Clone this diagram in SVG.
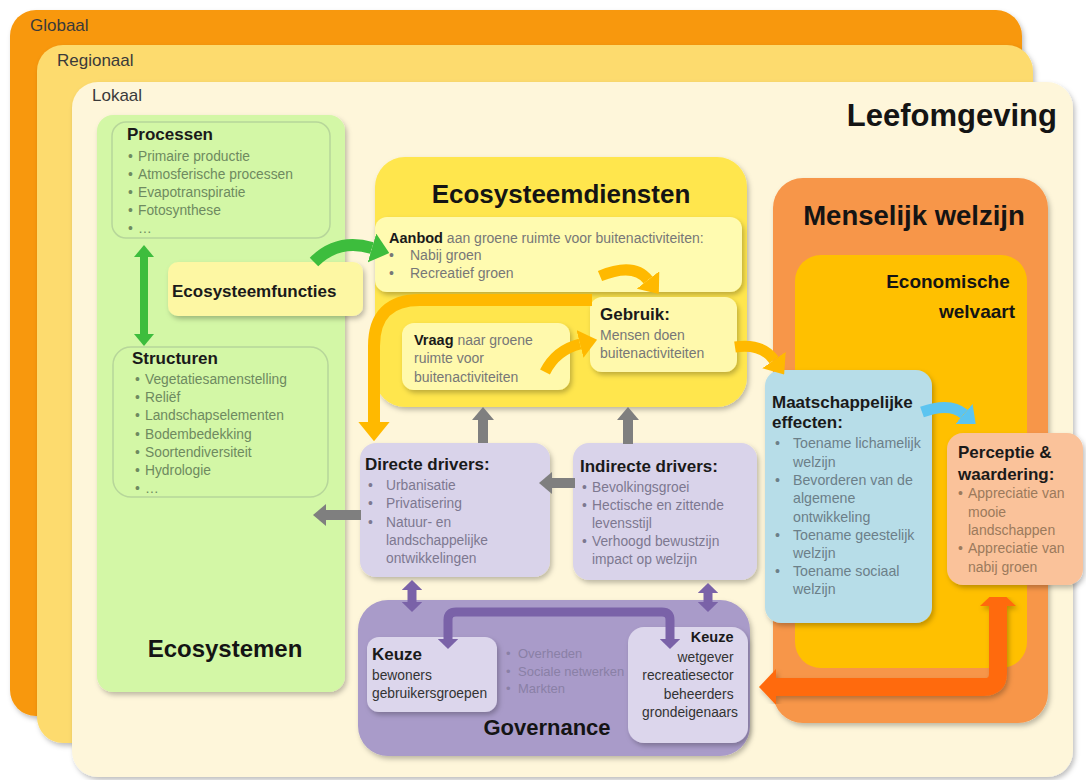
<svg xmlns="http://www.w3.org/2000/svg" width="1086" height="780" viewBox="0 0 1086 780">
  <style>
    text { font-family: "Liberation Sans", Arial, sans-serif; }
    .lvl { font-size: 17px; fill: #3a3a3a; }
    .big { font-weight: bold; fill: #141414; }
    .h { font-weight: bold; font-size: 17px; fill: #1a1a1a; }
    .t { font-size: 14px; fill: #777; }
    .tg { font-size: 13.8px; fill: #6e8a60; }
    .tp { font-size: 13.8px; fill: #7d7890; }
    .tm { font-size: 13px; fill: #8a80a6; }
    .tb { font-size: 14.2px; fill: #6c7f88; }
    .to { font-size: 14px; fill: #9c7a5c; }
    .k { font-size: 13.8px; fill: #333; }
    .shadow { filter: url(#sh); }
  </style>
  <defs>
    <filter id="sh" x="-10%" y="-10%" width="125%" height="130%">
      <feDropShadow dx="2" dy="3" stdDeviation="2.5" flood-color="#000" flood-opacity="0.25"/>
    </filter>
    <marker id="ah-gray" viewBox="0 0 10 10" refX="0" refY="5" markerWidth="1.3" markerHeight="2.2" preserveAspectRatio="none" orient="auto-start-reverse">
      <path d="M0,0L10,5L0,10z" fill="#7f7f7f"/>
    </marker>
    <marker id="ah-green" viewBox="0 0 10 10" refX="0" refY="5" markerWidth="1.5" markerHeight="2.5" preserveAspectRatio="none" orient="auto-start-reverse">
      <path d="M0,0L10,5L0,10z" fill="#3dbd3d"/>
    </marker>
    <marker id="ah-gold" viewBox="0 0 10 10" refX="0" refY="5" markerWidth="1.6" markerHeight="2.6" preserveAspectRatio="none" orient="auto-start-reverse">
      <path d="M0,0L10,5L0,10z" fill="#ffb900"/>
    </marker>
    <marker id="ah-purple" viewBox="0 0 10 10" refX="0" refY="5" markerWidth="1.1" markerHeight="2.3" preserveAspectRatio="none" orient="auto-start-reverse">
      <path d="M0,0L10,5L0,10z" fill="#7a62a8"/>
    </marker>
    <marker id="ah-blue" viewBox="0 0 10 10" refX="0" refY="5" markerWidth="1.4" markerHeight="2.4" preserveAspectRatio="none" orient="auto-start-reverse">
      <path d="M0,0L10,5L0,10z" fill="#5cc4f0"/>
    </marker>
    <marker id="ah-red" viewBox="0 0 10 10" refX="0" refY="5" markerWidth="0.95" markerHeight="2.0" preserveAspectRatio="none" orient="auto-start-reverse">
      <path d="M0,0L10,5L0,10z" fill="#ff6a0c"/>
    </marker>
  </defs>

  <rect width="1086" height="780" fill="#ffffff"/>

  <!-- scale levels -->
  <g id="globaal">
    <rect x="10" y="10" width="1012" height="706" rx="26" fill="#f8980f" class="shadow"/>
    <text x="30" y="31" class="lvl">Globaal</text>
  </g>
  <g id="regionaal">
    <rect x="37" y="45" width="996" height="698" rx="26" fill="#fddb6e" class="shadow"/>
    <text x="57" y="66" class="lvl">Regionaal</text>
  </g>
  <g id="lokaal">
    <rect x="72" y="82" width="1001" height="695" rx="26" fill="#fef6da" class="shadow"/>
    <text x="92" y="101" class="lvl">Lokaal</text>
    <text x="1057" y="126" text-anchor="end" class="big" font-size="31">Leefomgeving</text>
  </g>

  <!-- Ecosystems -->
  <g id="ecosystemen">
    <rect x="97" y="115" width="248" height="577" rx="16" fill="#d3f7a6" class="shadow"/>
    <text x="225" y="657" text-anchor="middle" class="big" font-size="24">Ecosystemen</text>
  </g>
  <g id="processen">
    <rect x="112" y="122" width="218" height="116" rx="14" fill="#d3f7a6" stroke="#b7d69a" stroke-width="1.5"/>
    <text x="127" y="140" class="h" font-size="17.5">Processen</text>
    <text class="tg">
      <tspan x="128" y="161">•</tspan><tspan x="138" y="161">Primaire productie</tspan>
      <tspan x="128" y="179">•</tspan><tspan x="138" y="179">Atmosferische processen</tspan>
      <tspan x="128" y="197">•</tspan><tspan x="138" y="197">Evapotranspiratie</tspan>
      <tspan x="128" y="215">•</tspan><tspan x="138" y="215">Fotosynthese</tspan>
      <tspan x="128" y="233">•</tspan><tspan x="138" y="233">…</tspan>
    </text>
  </g>
  <g id="structuren">
    <rect x="113" y="347" width="215" height="150" rx="18" fill="#d3f7a6" stroke="#b7d69a" stroke-width="1.5"/>
    <text x="132" y="364" class="h" font-size="17.5">Structuren</text>
    <text class="tg">
      <tspan x="135" y="384">•</tspan><tspan x="145" y="384">Vegetatiesamenstelling</tspan>
      <tspan x="135" y="402">•</tspan><tspan x="145" y="402">Reliëf</tspan>
      <tspan x="135" y="420">•</tspan><tspan x="145" y="420">Landschapselementen</tspan>
      <tspan x="135" y="439">•</tspan><tspan x="145" y="439">Bodembedekking</tspan>
      <tspan x="135" y="457">•</tspan><tspan x="145" y="457">Soortendiversiteit</tspan>
      <tspan x="135" y="475">•</tspan><tspan x="145" y="475">Hydrologie</tspan>
      <tspan x="135" y="493">•</tspan><tspan x="145" y="493">…</tspan>
    </text>
  </g>
  <g id="ecosysteemfuncties">
    <rect x="168" y="262" width="195" height="54" rx="10" fill="#fdf7a3" class="shadow"/>
    <text x="172" y="297" class="h" font-size="17.5">Ecosysteemfuncties</text>
  </g>

  <!-- Ecosystem services -->
  <g id="ecosysteemdiensten">
    <rect x="375" y="157" width="372" height="250" rx="30" fill="#ffe64d" class="shadow"/>
    <text x="561" y="203" text-anchor="middle" class="big" font-size="26">Ecosysteemdiensten</text>
  </g>
  <g id="aanbod">
    <rect x="375" y="217" width="367" height="75" rx="12" fill="#fffbb0" class="shadow"/>
    <text x="389" y="243" class="t" font-size="14.5"><tspan font-weight="bold" font-size="14.5" fill="#1a1a1a">Aanbod</tspan> aan groene ruimte voor buitenactiviteiten:</text>
    <text class="t">
      <tspan x="389" y="260">•</tspan><tspan x="410" y="260">Nabij groen</tspan>
      <tspan x="389" y="278">•</tspan><tspan x="410" y="278">Recreatief groen</tspan>
    </text>
  </g>
  <g id="vraag">
    <rect x="402" y="323" width="168" height="67" rx="12" fill="#fff9ac" class="shadow"/>
    <text x="414" y="345" class="t"><tspan font-weight="bold" font-size="14.5" fill="#1a1a1a">Vraag</tspan> naar groene</text>
    <text x="414" y="363" class="t">ruimte voor</text>
    <text x="414" y="382" class="t">buitenactiviteiten</text>
  </g>
  <g id="gebruik">
    <rect x="590" y="297" width="147" height="75" rx="12" fill="#fff9ac" class="shadow"/>
    <text x="600" y="320" class="h" font-size="15">Gebruik:</text>
    <text x="600" y="340" class="t">Mensen doen</text>
    <text x="600" y="358" class="t">buitenactiviteiten</text>
  </g>

  <!-- Drivers -->
  <g id="directe-drivers">
    <rect x="360" y="443" width="190" height="134" rx="16" fill="#d9d3ea" class="shadow"/>
    <text x="365" y="470" class="h">Directe drivers:</text>
    <text class="tp">
      <tspan x="368" y="490">•</tspan><tspan x="386" y="490">Urbanisatie</tspan>
      <tspan x="368" y="508">•</tspan><tspan x="386" y="508">Privatisering</tspan>
      <tspan x="368" y="527">•</tspan><tspan x="386" y="527">Natuur- en</tspan>
      <tspan x="386" y="545">landschappelijke</tspan>
      <tspan x="386" y="563">ontwikkelingen</tspan>
    </text>
  </g>
  <g id="indirecte-drivers">
    <rect x="573" y="443" width="184" height="137" rx="16" fill="#d9d3ea" class="shadow"/>
    <text x="580" y="472" class="h">Indirecte drivers:</text>
    <text class="tp">
      <tspan x="582" y="492">•</tspan><tspan x="592" y="492">Bevolkingsgroei</tspan>
      <tspan x="582" y="510">•</tspan><tspan x="592" y="510">Hectische en zittende</tspan>
      <tspan x="592" y="528">levensstijl</tspan>
      <tspan x="582" y="546">•</tspan><tspan x="592" y="546">Verhoogd bewustzijn</tspan>
      <tspan x="592" y="564">impact op welzijn</tspan>
    </text>
  </g>

  <!-- Governance -->
  <g id="governance">
    <rect x="358" y="600" width="392" height="156" rx="30" fill="#a99bc9" class="shadow"/>
    <text x="547" y="735" text-anchor="middle" class="big" font-size="22">Governance</text>
    <text class="tm">
      <tspan x="506" y="658">•</tspan><tspan x="518" y="658">Overheden</tspan>
      <tspan x="506" y="676">•</tspan><tspan x="518" y="676">Sociale netwerken</tspan>
      <tspan x="506" y="693">•</tspan><tspan x="518" y="693">Markten</tspan>
    </text>
  </g>
  <g id="keuze-bewoners">
    <rect x="367" y="637" width="130" height="75" rx="12" fill="#dcd6ec" class="shadow"/>
    <text x="372" y="660" class="h" font-size="14.5">Keuze</text>
    <text x="372" y="680" class="k">bewoners</text>
    <text x="372" y="698" class="k">gebruikersgroepen</text>
  </g>
  <g id="keuze-wetgever">
    <rect x="628" y="627" width="120" height="116" rx="16" fill="#dcd6ec" class="shadow"/>
    <text text-anchor="end">
      <tspan x="738" y="642" font-weight="bold" font-size="14.5" fill="#1a1a1a">Keuze</tspan>
      <tspan x="738" y="662" class="k">wetgever</tspan>
      <tspan x="738" y="680" class="k">recreatiesector</tspan>
      <tspan x="738" y="699" class="k">beheerders</tspan>
      <tspan x="738" y="717" class="k">grondeigenaars</tspan>
    </text>
  </g>

  <!-- Human well-being -->
  <g id="menselijk-welzijn">
    <rect x="773" y="178" width="275" height="545" rx="30" fill="#f7964a" class="shadow"/>
    <text x="914" y="225" text-anchor="middle" class="big" font-size="27.5">Menselijk welzijn</text>
  </g>
  <g id="economische-welvaart">
    <rect x="795" y="255" width="232" height="413" rx="26" fill="#ffc000"/>
    <text text-anchor="end" class="big" font-size="19">
      <tspan x="1015" y="288">Economische</tspan>
      <tspan x="1015" y="318">welvaart</tspan>
    </text>
  </g>
  <g id="maatschappelijke-effecten">
    <rect x="765" y="370" width="167" height="253" rx="16" fill="#b7dde8" class="shadow"/>
    <text x="772" y="408" class="h" font-size="16">Maatschappelijke</text>
    <text x="772" y="428" class="h" font-size="16">effecten:</text>
    <text class="tb">
      <tspan x="775" y="448">•</tspan><tspan x="793" y="448">Toename lichamelijk</tspan>
      <tspan x="793" y="467">welzijn</tspan>
      <tspan x="775" y="485">•</tspan><tspan x="793" y="485">Bevorderen van de</tspan>
      <tspan x="793" y="503">algemene</tspan>
      <tspan x="793" y="522">ontwikkeling</tspan>
      <tspan x="775" y="540">•</tspan><tspan x="793" y="540">Toename geestelijk</tspan>
      <tspan x="793" y="558">welzijn</tspan>
      <tspan x="775" y="576">•</tspan><tspan x="793" y="576">Toename sociaal</tspan>
      <tspan x="793" y="594">welzijn</tspan>
    </text>
  </g>
  <g id="perceptie-waardering">
    <rect x="947" y="433" width="136" height="152" rx="16" fill="#fac29a" class="shadow"/>
    <text x="958" y="458" class="h" font-size="16.5">Perceptie &amp;</text>
    <text x="958" y="480" class="h" font-size="16.5">waardering:</text>
    <text class="to">
      <tspan x="958" y="498">•</tspan><tspan x="968" y="498">Appreciatie van</tspan>
      <tspan x="968" y="517">mooie</tspan>
      <tspan x="968" y="535">landschappen</tspan>
      <tspan x="958" y="553">•</tspan><tspan x="968" y="553">Appreciatie van</tspan>
      <tspan x="968" y="572">nabij groen</tspan>
    </text>
  </g>

  <!-- connectors -->
  <g id="connectors" fill="none">
    <!-- green -->
    <path d="M144,257 L144,334" stroke="#3dbd3d" stroke-width="8" marker-start="url(#ah-green)" marker-end="url(#ah-green)"/>
    <path d="M314,262 Q338,238 372,248" stroke="#3dbd3d" stroke-width="12" marker-end="url(#ah-green)"/>
    <!-- gold -->
    <path d="M592,300 L420,300 Q374,300 374,346 L374,422" stroke="#ffb900" stroke-width="12" marker-end="url(#ah-gold)"/>
    <path d="M600,276 Q634,262 648,280" stroke="#ffb900" stroke-width="11" marker-end="url(#ah-gold)"/>
    <path d="M545,372 Q556,350 580,344" stroke="#ffb900" stroke-width="11" marker-end="url(#ah-gold)"/>
    <path d="M735,347 Q762,343 774,360" stroke="#ffb900" stroke-width="11" marker-end="url(#ah-gold)"/>
    <!-- gray -->
    <path d="M483,443 L483,420" stroke="#7f7f7f" stroke-width="10" marker-end="url(#ah-gray)"/>
    <path d="M628,444 L628,420" stroke="#7f7f7f" stroke-width="10" marker-end="url(#ah-gray)"/>
    <path d="M575,483 L552,483" stroke="#7f7f7f" stroke-width="10" marker-end="url(#ah-gray)"/>
    <path d="M361,515 L326,515" stroke="#7f7f7f" stroke-width="10" marker-end="url(#ah-gray)"/>
    <!-- purple -->
    <path d="M412,590 L412,602" stroke="#7a62a8" stroke-width="9" marker-start="url(#ah-purple)" marker-end="url(#ah-purple)"/>
    <path d="M708,593 L708,602" stroke="#7a62a8" stroke-width="9" marker-start="url(#ah-purple)" marker-end="url(#ah-purple)"/>
    <path d="M448,639 L448,620 Q448,612 456,612 L662,612 Q670,612 670,620 L670,639" stroke="#7a62a8" stroke-width="9" marker-start="url(#ah-purple)" marker-end="url(#ah-purple)"/>
    <!-- blue -->
    <path d="M922,412 Q950,402 964,414" stroke="#5cc4f0" stroke-width="11" marker-end="url(#ah-blue)"/>
    <!-- orange-red -->
    <path d="M776,687 L984,687 Q998,687 998,673 L998,606" stroke="#ff6a0c" stroke-width="18" marker-start="url(#ah-red)" marker-end="url(#ah-red)" class="shadow"/>
  </g>
</svg>
